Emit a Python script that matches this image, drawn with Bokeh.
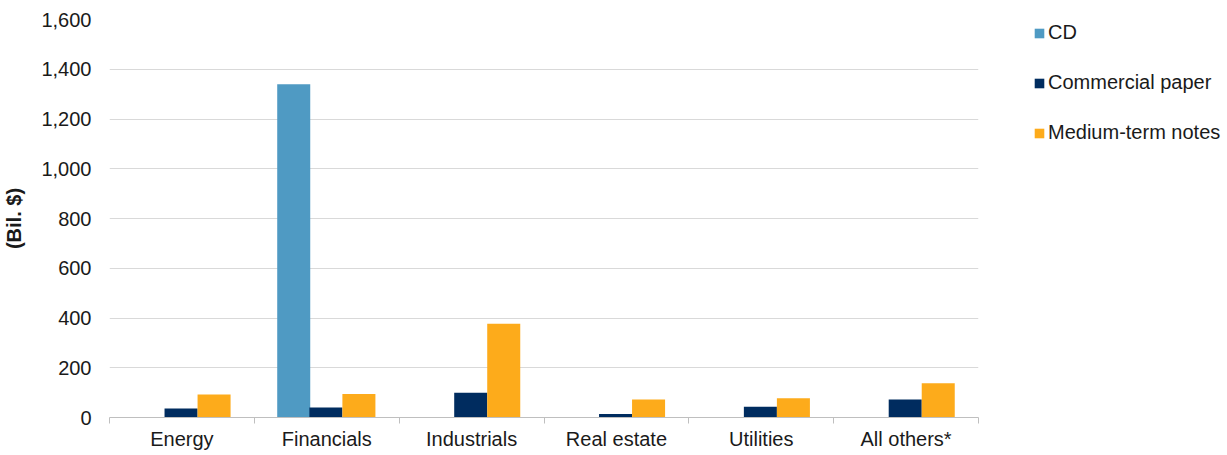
import numpy as np
from bokeh.plotting import figure
from bokeh.models import (Range1d, FixedTicker, Legend, LegendItem, NumeralTickFormatter, ColumnDataSource)
from bokeh.transform import dodge
from bokeh.embed import file_html
from bokeh.resources import INLINE

categories = ["Energy", "Financials", "Industrials", "Real estate", "Utilities", "All others*"]
series_names = ["CD", "Commercial paper", "Medium-term notes"]
cd = [0, 1340, 0, 0, 0, 0]
commercial_paper = [36, 40, 99, 14, 43, 72]
medium_term_notes = [92, 94, 377, 72, 77, 138]
y_ticks = [0, 200, 400, 600, 800, 1000, 1200, 1400, 1600]

colors = ["#4f9ac3", "#002c5f", "#fdab1b"]
FONT = "Liberation Sans"
TEXT = "#1a1a1a"

n = len(categories)
centers = np.arange(n) + 0.5
source = ColumnDataSource(dict(x=centers, cd=cd, cp=commercial_paper, mtn=medium_term_notes))

p = figure(frame_width=869, frame_height=398, x_range=Range1d(0, n),
           y_range=Range1d(y_ticks[0], y_ticks[-1]),
           output_backend="svg", toolbar_location=None,
           min_border_left=109, min_border_top=19, min_border_bottom=36, min_border_right=0)
p.outline_line_color = None
p.background_fill_color = "white"
p.xgrid.grid_line_color = None
p.ygrid.grid_line_color = "#d9d9d9"
p.ygrid.grid_line_width = 1

bw = 0.228
offsets = [-0.228, -0.006, 0.222]
fields = ["cd", "cp", "mtn"]
renderers = []
for f, off, c in zip(fields, offsets, colors):
    r = p.vbar(x=dodge("x", off), top=f, width=bw, source=source,
               fill_color=c, line_color=None)
    renderers.append(r)

# y axis
ya = p.yaxis[0]
ya.ticker = FixedTicker(ticks=y_ticks)
ya.formatter = NumeralTickFormatter(format="0,0")
ya.axis_line_color = None
ya.major_tick_line_color = None
ya.minor_tick_line_color = None
ya.major_tick_out = 0
ya.major_tick_in = 0
ya.major_label_standoff = 18
ya.major_label_text_font = FONT
ya.major_label_text_font_size = "20px"
ya.major_label_text_color = TEXT
ya.axis_label = "(Bil. $)"
ya.axis_label_text_font = FONT
ya.axis_label_text_font_style = "bold"
ya.axis_label_text_font_size = "20px"
ya.axis_label_text_color = TEXT
ya.axis_label_standoff = 13

# x axis: labels at category centres, ticks at boundaries
xa = p.xaxis[0]
xa.ticker = FixedTicker(ticks=list(centers), minor_ticks=list(range(n + 1)))
xa.major_label_overrides = {float(c): name for c, name in zip(centers, categories)}
xa.axis_line_color = "#bfbfbf"
xa.major_tick_line_color = None
xa.minor_tick_line_color = "#bfbfbf"
xa.minor_tick_out = 6
xa.minor_tick_in = 0
xa.major_tick_out = 0
xa.major_tick_in = 0
xa.major_label_standoff = 4
xa.major_label_text_font = FONT
xa.major_label_text_font_size = "20px"
xa.major_label_text_color = TEXT

legend = Legend(items=[LegendItem(label=nm, renderers=[r]) for nm, r in zip(series_names, renderers)],
                orientation="vertical",
                glyph_width=12, glyph_height=12, label_standoff=3,
                label_text_font=FONT, label_text_font_size="20px", label_text_color=TEXT,
                label_height=20, spacing=27, padding=0, margin=0,
                border_line_color=None, background_fill_alpha=0)
legend.location = (55, 273)
p.add_layout(legend, "right")

open("out.html", "w").write(file_html(p, INLINE))
